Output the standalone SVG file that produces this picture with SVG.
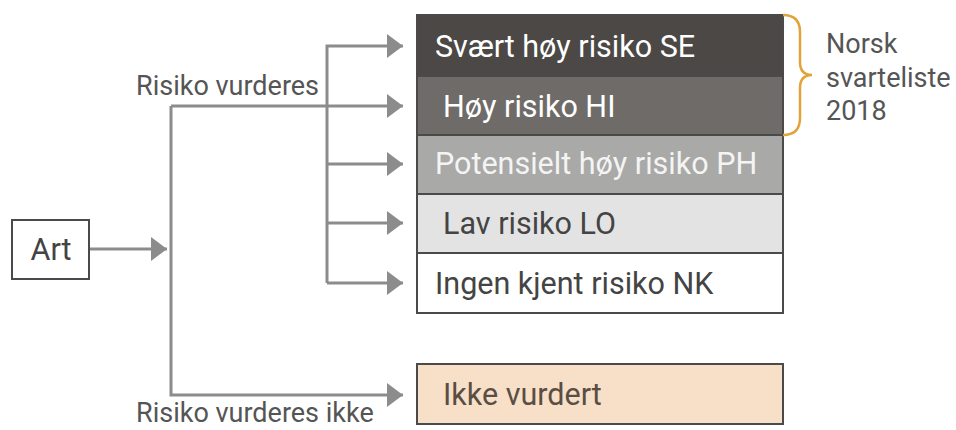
<svg xmlns="http://www.w3.org/2000/svg" width="956" height="430" viewBox="0 0 956 430">
<style>
text{font-family:Roboto,"Liberation Sans",sans-serif;font-size:27px}
.row{font-size:30.5px}
.box{stroke:#4a4a4a;stroke-width:2}
.conn{fill:none;stroke:#8c8c8c;stroke-width:3}
.lbl{fill:#555}
</style>
<defs>
<marker id="ah" markerUnits="userSpaceOnUse" markerWidth="16" markerHeight="24" viewBox="0 0 16 24" refX="16" refY="12" orient="auto">
<path d="M0,0 L16,12 L0,24 Z" fill="#8c8c8c"/>
</marker>
</defs>
<rect width="956" height="430" fill="#fff"/>
<g id="connectors">
<path class="conn" d="M89,249 H167" marker-end="url(#ah)"/>
<path class="conn" d="M171,106 H403" marker-end="url(#ah)"/>
<path class="conn" d="M171,106 V395 H403" marker-end="url(#ah)"/>
<path class="conn" d="M327,283 V46 H403" marker-end="url(#ah)"/>
<path class="conn" d="M327,164 H403" marker-end="url(#ah)"/>
<path class="conn" d="M327,223 H403" marker-end="url(#ah)"/>
<path class="conn" d="M327,283 H403" marker-end="url(#ah)"/>
</g>
<g id="label-vurderes"><text class="lbl" x="136" y="95">Risiko vurderes</text></g>
<g id="label-ikke"><text class="lbl" x="136" y="422">Risiko vurderes ikke</text></g>
<g id="art">
<rect class="box" x="12" y="220" width="77" height="59" fill="#fff"/>
<text class="row" x="51" y="260" text-anchor="middle" fill="#444">Art</text>
</g>
<g id="se">
<rect class="box" x="417" y="15" width="366" height="61" fill="#4b4845"/>
<text class="row" x="435" y="57" fill="#fff">Svært høy risiko SE</text>
</g>
<g id="hi">
<rect class="box" x="417" y="76" width="366" height="59" fill="#6e6b68"/>
<text class="row" x="443" y="117" fill="#fff">Høy risiko HI</text>
</g>
<g id="ph">
<rect class="box" x="417" y="135" width="366" height="59" fill="#a9a9a7"/>
<text class="row" x="435" y="174" fill="#f4f4f4">Potensielt høy risiko PH</text>
</g>
<g id="lo">
<rect class="box" x="417" y="194" width="366" height="59" fill="#e3e3e3"/>
<text class="row" x="443" y="234" fill="#444">Lav risiko LO</text>
</g>
<g id="nk">
<rect class="box" x="417" y="253" width="366" height="60" fill="#fff"/>
<text class="row" x="435" y="294" fill="#444">Ingen kjent risiko NK</text>
</g>
<g id="ikke">
<rect class="box" x="417" y="364" width="366" height="60" fill="#f8e0c8" stroke="#5a524c"/>
<text class="row" x="443" y="405" fill="#5a4e44">Ikke vurdert</text>
</g>
<g id="svarteliste">
<path d="M783,15 C796,15 800,22 800,32 V62 C800,70 804,75 812,75 C804,75 800,80 800,88 V118 C800,128 796,135 783,135" fill="none" stroke="#e3a33a" stroke-width="2.5"/>
<text class="lbl" x="826" y="53">Norsk</text>
<text class="lbl" x="826" y="87">svarteliste</text>
<text class="lbl" x="826" y="120">2018</text>
</g>
</svg>
